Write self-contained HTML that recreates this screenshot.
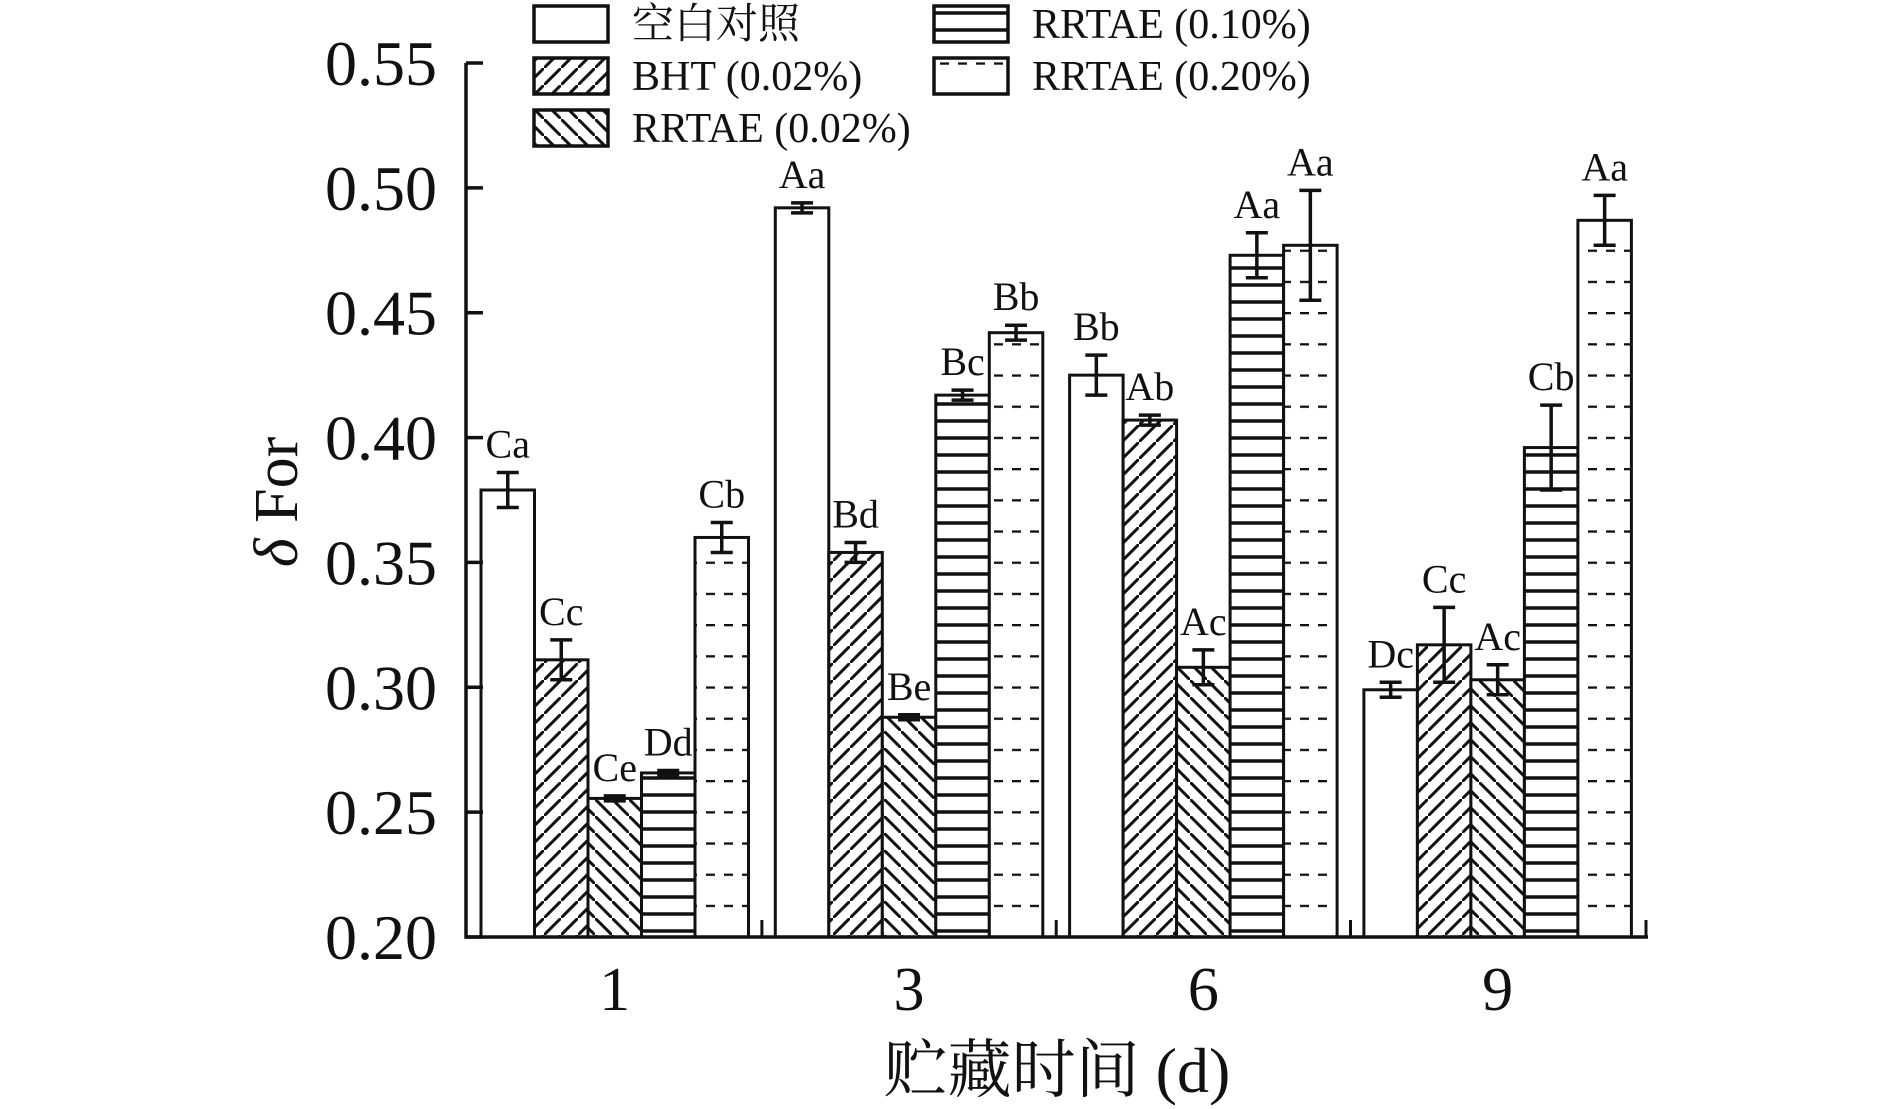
<!DOCTYPE html>
<html><head><meta charset="utf-8">
<style>
html,body{margin:0;padding:0;background:#fff;}
svg{display:block;}
text{font-family:"Liberation Serif","Noto Serif CJK SC",serif;fill:#111;}
</style></head>
<body>
<svg id="chart" width="1890" height="1109" viewBox="0 0 1890 1109" xmlns="http://www.w3.org/2000/svg">
<defs>
<pattern id="p-fwd" patternUnits="userSpaceOnUse" width="17" height="17">
<line x1="-2" y1="19" x2="19" y2="-2" stroke="#111" stroke-width="3"/>
</pattern>
<pattern id="p-back" patternUnits="userSpaceOnUse" width="17" height="17">
<line x1="-2" y1="-2" x2="19" y2="19" stroke="#111" stroke-width="3"/>
</pattern>
<pattern id="p-hor" patternUnits="userSpaceOnUse" width="17" height="17" y="5">
<line x1="0" y1="8" x2="17" y2="8" stroke="#111" stroke-width="3.5"/>
</pattern>
<pattern id="p-dash" patternUnits="userSpaceOnUse" width="18" height="31.2" x="4" y="0">
<line x1="0" y1="1" x2="9" y2="1" stroke="#111" stroke-width="2.6"/>
</pattern>
</defs>
<g id="plot"></g>
<g id="legend"></g>
</svg>
<script>
const categories = ["1", "3", "6", "9"];
const seriesNames = ["空白对照", "BHT (0.02%)", "RRTAE (0.02%)", "RRTAE (0.10%)", "RRTAE (0.20%)"];
const blankVals = [0.379, 0.492, 0.425, 0.299];
const bhtVals = [0.311, 0.354, 0.407, 0.317];
const rr002Vals = [0.2555, 0.288, 0.308, 0.303];
const rr010Vals = [0.2657, 0.417, 0.473, 0.396];
const rr020Vals = [0.360, 0.442, 0.477, 0.487];
const blankErr = [0.007, 0.002, 0.008, 0.003];
const bhtErr = [0.008, 0.004, 0.002, 0.015];
const rr002Err = [0.001, 0.001, 0.007, 0.006];
const rr010Err = [0.001, 0.002, 0.009, 0.017];
const rr020Err = [0.006, 0.003, 0.022, 0.010];
const blankLbl = ["Ca", "Aa", "Bb", "Dc"];
const bhtLbl = ["Cc", "Bd", "Ab", "Cc"];
const rr002Lbl = ["Ce", "Be", "Ac", "Ac"];
const rr010Lbl = ["Dd", "Bc", "Aa", "Cb"];
const rr020Lbl = ["Cb", "Bb", "Aa", "Aa"];
const yTicks = ["0.20", "0.25", "0.30", "0.35", "0.40", "0.45", "0.50", "0.55"];

const NS = "http://www.w3.org/2000/svg";
const plot = document.getElementById('plot');
const legend = document.getElementById('legend');
const fills = ["#fff", "url(#p-fwd)", "url(#p-back)", "url(#p-hor)", "url(#p-dash)"];
const values = [blankVals, bhtVals, rr002Vals, rr010Vals, rr020Vals];
const errs = [blankErr, bhtErr, rr002Err, rr010Err, rr020Err];
const lbls = [blankLbl, bhtLbl, rr002Lbl, rr010Lbl, rr020Lbl];

const X0 = 466, X1 = 1648, Y0 = 937, YMIN = 0.20, YMAX = 0.55, YTOP = 63;
function yScale(v) { return Y0 - (v - YMIN) / (YMAX - YMIN) * (Y0 - YTOP); }
const groupStart = 481, groupStep = 294.3, barW = 53.5;
function xBar(g, s) { return groupStart + g * groupStep + s * barW; }

function mk(tag, attrs, parent) {
  const e = document.createElementNS(NS, tag);
  for (const k in attrs) e.setAttribute(k, attrs[k]);
  parent.appendChild(e);
  return e;
}

for (let s = 0; s < 5; s++) {
  for (let g = 0; g < categories.length; g++) {
    const v = values[s][g];
    const x = xBar(g, s), y = yScale(v);
    const r = mk('rect', {x: x, y: y, width: barW, height: Y0 - y, fill: "#fff", stroke: "none"}, plot);
    
    
    const b = mk('rect', {x: x, y: y, width: barW, height: Y0 - y, fill: fills[s], stroke: "#111", "stroke-width": 3}, plot);
    
    
    const cx = x + barW / 2;
    const e = errs[s][g];
    const yt = yScale(v + e), yb = yScale(v - e);
    const eb = mk('path', {d: `M${cx},${yt}V${yb}M${cx-11},${yt}H${cx+11}M${cx-11},${yb}H${cx+11}`, stroke: "#111", "stroke-width": 3.5, fill: "none"}, plot);
    
    
    const t = mk('text', {x: cx, y: yt - 15, "font-size": 40, "text-anchor": "middle"}, plot);
    t.textContent = lbls[s][g];
    
    
  }
}

const ax = mk('path', {d: `M${X0},${YTOP}V${Y0}H${X1}`, stroke: "#111", "stroke-width": 3.5, fill: "none"}, plot);


for (let i = 0; i < yTicks.length; i++) {
  const y = yScale(parseFloat(yTicks[i]));
  const tk = mk('line', {x1: X0, x2: X0 + 17, y1: y, y2: y, stroke: "#111", "stroke-width": 3.5}, plot);
  
  
  const t = mk('text', {x: 437, y: y + 22, "font-size": 64, "text-anchor": "end"}, plot);
  t.textContent = yTicks[i];
  
  
}
for (let g = 0; g < categories.length; g++) {
  const xr = g < categories.length - 1 ? (xBar(g, 5) + xBar(g + 1, 0)) / 2 : X1 - 2;
  const tk = mk('line', {x1: xr, x2: xr, y1: Y0, y2: Y0 - 17, stroke: "#111", "stroke-width": 3}, plot);
  
  
  const t = mk('text', {x: xBar(g, 2.5), y: 1010, "font-size": 62, "text-anchor": "middle"}, plot);
  t.textContent = categories[g];
  
  
}
const xt = mk('text', {x: 1057, y: 1092, "font-size": 64, "text-anchor": "middle"}, plot);
xt.textContent = "贮藏时间 (d)";


const yt = mk('text', {x: 0, y: 0, "font-size": 62, "text-anchor": "middle", transform: "translate(297,502) rotate(-90)"}, plot);
yt.innerHTML = '<tspan font-style="italic">δ</tspan> For';



const legPos = [[534, 6], [534, 58], [534, 110], [934, 6], [934, 58]];
for (let s = 0; s < 5; s++) {
  const [lx, ly] = legPos[s];
  const bg = mk('rect', {x: lx, y: ly, width: 74, height: 36, fill: "#fff"}, legend);
  
  
  const sw = mk('rect', {x: lx, y: ly, width: 74, height: 36, fill: fills[s], stroke: "#111", "stroke-width": 3.5}, legend);
  
  
  const t = mk('text', {x: lx + 98, y: ly + 32, "font-size": 42}, legend);
  t.textContent = seriesNames[s];
  
  
}
</script>
</body></html>
